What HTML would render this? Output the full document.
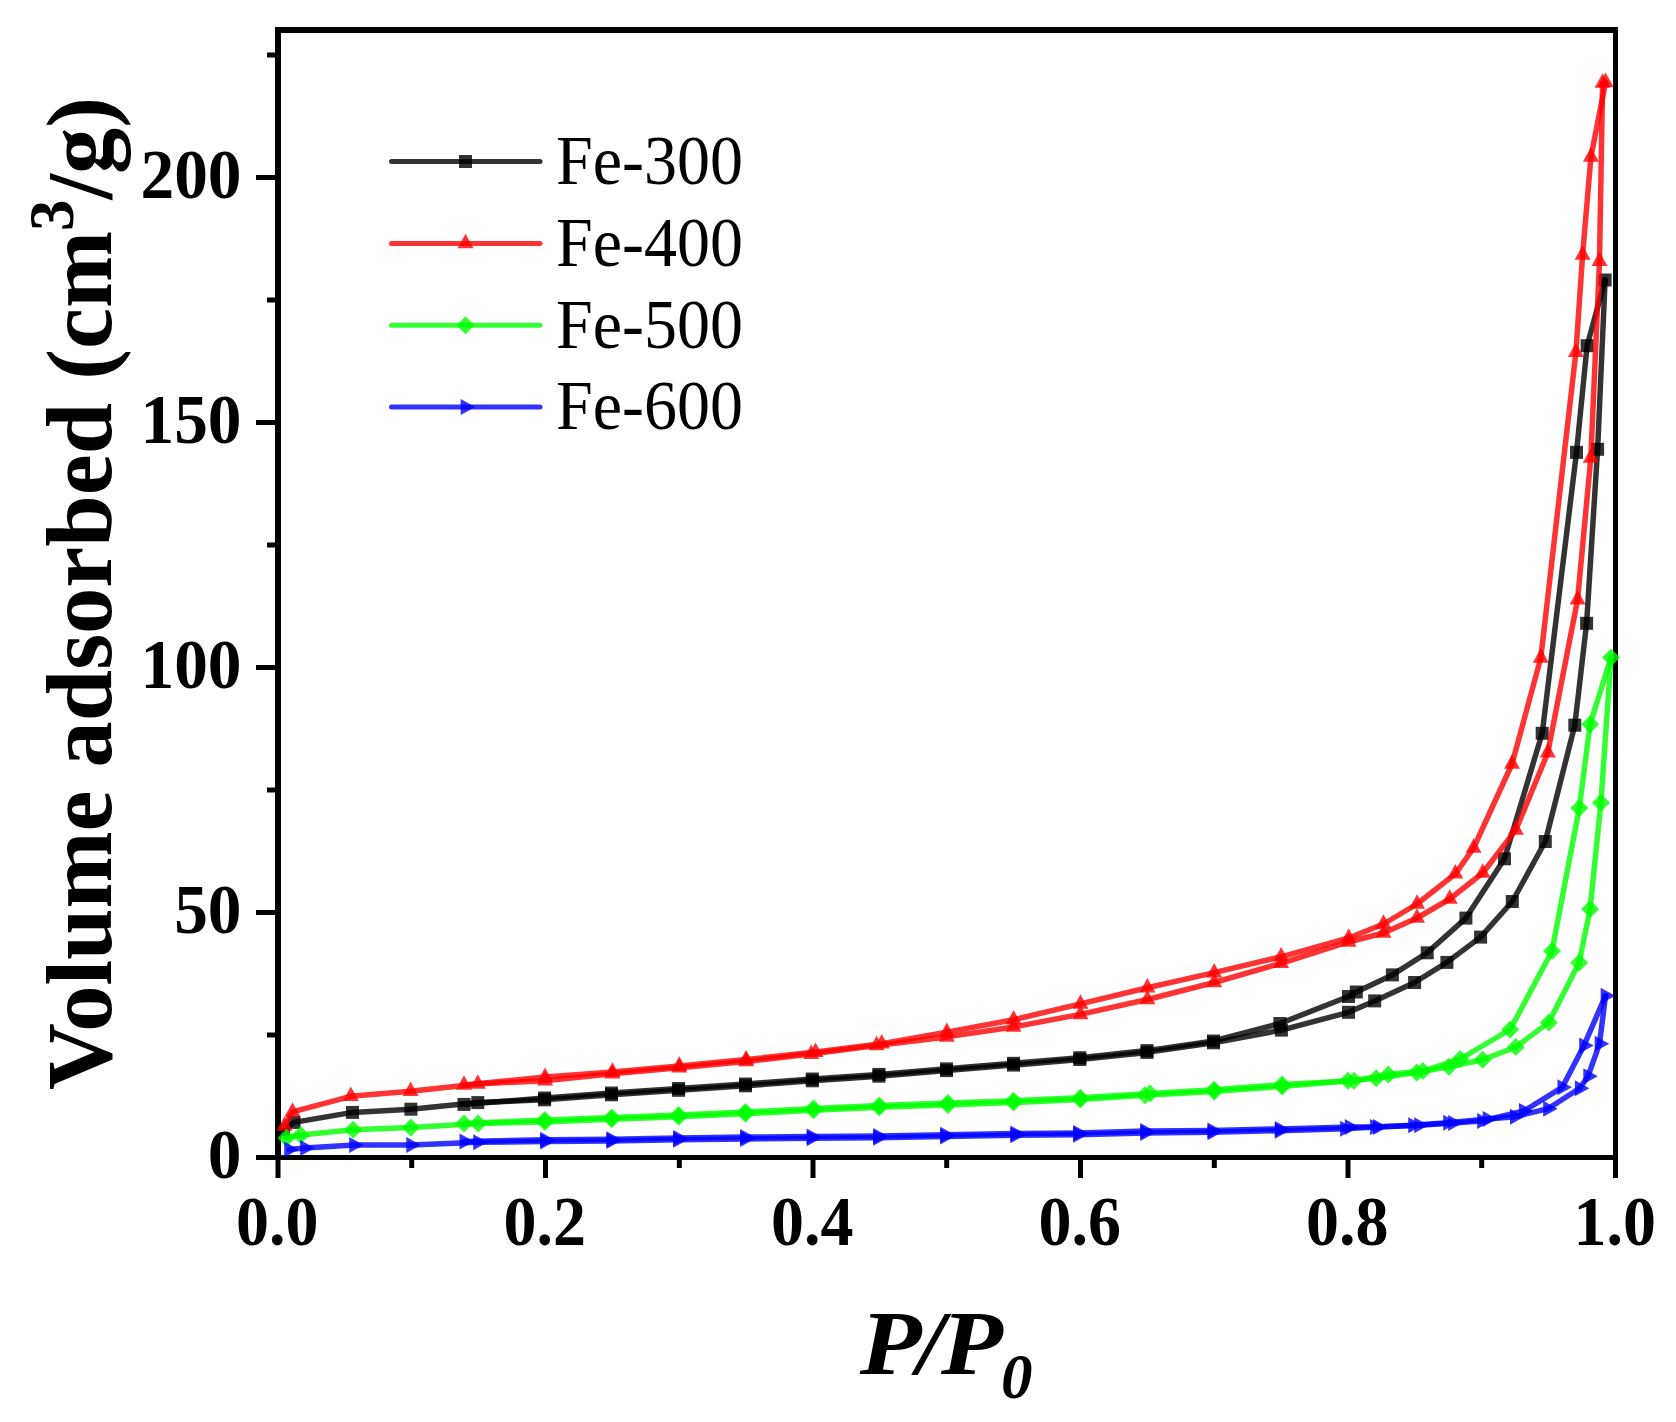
<!DOCTYPE html>
<html><head><meta charset="utf-8"><title>Volume adsorbed vs P/P0</title>
<style>html,body{margin:0;padding:0;background:#fff;}svg{display:block;}text{font-family:"Liberation Serif","Times New Roman",serif;}</style></head><body>
<svg width="1676" height="1422" viewBox="0 0 1676 1422">
<rect x="0" y="0" width="1676" height="1422" fill="#ffffff"/>
<g fill="#000">
<rect x="275" y="27" width="6" height="1133"/>
<rect x="275" y="27" width="1343" height="6"/>
<rect x="1613" y="27" width="5" height="1133"/>
<rect x="275" y="1155" width="1343" height="5"/>
<rect x="256" y="1155" width="20" height="5"/>
<rect x="267" y="1032.5" width="9" height="5"/>
<rect x="256" y="910" width="20" height="5"/>
<rect x="267" y="787.5" width="9" height="5"/>
<rect x="256" y="665" width="20" height="5"/>
<rect x="267" y="542.5" width="9" height="5"/>
<rect x="256" y="420" width="20" height="5"/>
<rect x="267" y="297.5" width="9" height="5"/>
<rect x="256" y="175" width="20" height="5"/>
<rect x="267" y="52.5" width="9" height="5"/>
<rect x="275.5" y="1159" width="5" height="19"/>
<rect x="409.2" y="1159" width="5" height="9"/>
<rect x="543" y="1159" width="5" height="19"/>
<rect x="676.8" y="1159" width="5" height="9"/>
<rect x="810.5" y="1159" width="5" height="19"/>
<rect x="944.2" y="1159" width="5" height="9"/>
<rect x="1078" y="1159" width="5" height="19"/>
<rect x="1211.8" y="1159" width="5" height="9"/>
<rect x="1345.5" y="1159" width="5" height="19"/>
<rect x="1479.2" y="1159" width="5" height="9"/>
<rect x="1613" y="1159" width="5" height="19"/>
</g>
<g>
<polyline points="283.5,1129.9 294,1122.4 352.5,1112.4 410.9,1109.2 477.8,1102.6 544.6,1099.8 611.5,1094.8 678.6,1090.3 745.5,1085.8 812.3,1080.8 878.9,1076.2 946.5,1070.6 1013.5,1065.1 1079.8,1059.5 1147,1052.4 1213.5,1042.8 1281.4,1030.1 1348.5,1012.3 1374.7,1000.9 1414.6,982.5 1446.9,962.4 1480.6,937.1 1512.3,901.5 1545.3,841.5 1574.8,725.2 1586.6,623.3 1597.6,449.3 1605.1,280" fill="none" stroke="#000000" stroke-opacity="0.8" stroke-width="5.5" stroke-linejoin="round" stroke-linecap="round"/>
<polyline points="1605.1,280 1587.1,345.7 1576.5,452.4 1542.2,733.3 1504.5,858.8 1465.9,918.1 1427.2,952.8 1392.4,974.9 1356.3,992 1348.5,996.5 1279.9,1023.5 1213.5,1041 1147,1050.6 1079.8,1057.7 1013.5,1063.3 946.5,1068.8 878.9,1074.4 812.3,1079 745.5,1084 678.6,1088.5 611.5,1093 544.6,1098 464,1104.4" fill="none" stroke="#000000" stroke-opacity="0.8" stroke-width="5.5" stroke-linejoin="round" stroke-linecap="round"/>
<rect x="277" y="1123.4" width="13" height="13" fill="#000000" fill-opacity="0.8"/>
<rect x="287.5" y="1115.9" width="13" height="13" fill="#000000" fill-opacity="0.8"/>
<rect x="346" y="1105.9" width="13" height="13" fill="#000000" fill-opacity="0.8"/>
<rect x="404.4" y="1102.7" width="13" height="13" fill="#000000" fill-opacity="0.8"/>
<rect x="471.3" y="1096.1" width="13" height="13" fill="#000000" fill-opacity="0.8"/>
<rect x="538.1" y="1093.3" width="13" height="13" fill="#000000" fill-opacity="0.8"/>
<rect x="605" y="1088.3" width="13" height="13" fill="#000000" fill-opacity="0.8"/>
<rect x="672.1" y="1083.8" width="13" height="13" fill="#000000" fill-opacity="0.8"/>
<rect x="739" y="1079.3" width="13" height="13" fill="#000000" fill-opacity="0.8"/>
<rect x="805.8" y="1074.3" width="13" height="13" fill="#000000" fill-opacity="0.8"/>
<rect x="872.4" y="1069.7" width="13" height="13" fill="#000000" fill-opacity="0.8"/>
<rect x="940" y="1064.1" width="13" height="13" fill="#000000" fill-opacity="0.8"/>
<rect x="1007" y="1058.6" width="13" height="13" fill="#000000" fill-opacity="0.8"/>
<rect x="1073.3" y="1053" width="13" height="13" fill="#000000" fill-opacity="0.8"/>
<rect x="1140.5" y="1045.9" width="13" height="13" fill="#000000" fill-opacity="0.8"/>
<rect x="1207" y="1036.3" width="13" height="13" fill="#000000" fill-opacity="0.8"/>
<rect x="1274.9" y="1023.6" width="13" height="13" fill="#000000" fill-opacity="0.8"/>
<rect x="1342" y="1005.8" width="13" height="13" fill="#000000" fill-opacity="0.8"/>
<rect x="1368.2" y="994.4" width="13" height="13" fill="#000000" fill-opacity="0.8"/>
<rect x="1408.1" y="976" width="13" height="13" fill="#000000" fill-opacity="0.8"/>
<rect x="1440.4" y="955.9" width="13" height="13" fill="#000000" fill-opacity="0.8"/>
<rect x="1474.1" y="930.6" width="13" height="13" fill="#000000" fill-opacity="0.8"/>
<rect x="1505.8" y="895" width="13" height="13" fill="#000000" fill-opacity="0.8"/>
<rect x="1538.8" y="835" width="13" height="13" fill="#000000" fill-opacity="0.8"/>
<rect x="1568.3" y="718.7" width="13" height="13" fill="#000000" fill-opacity="0.8"/>
<rect x="1580.1" y="616.8" width="13" height="13" fill="#000000" fill-opacity="0.8"/>
<rect x="1591.1" y="442.8" width="13" height="13" fill="#000000" fill-opacity="0.8"/>
<rect x="1598.6" y="273.5" width="13" height="13" fill="#000000" fill-opacity="0.8"/>
<rect x="1580.6" y="339.2" width="13" height="13" fill="#000000" fill-opacity="0.8"/>
<rect x="1570" y="445.9" width="13" height="13" fill="#000000" fill-opacity="0.8"/>
<rect x="1535.7" y="726.8" width="13" height="13" fill="#000000" fill-opacity="0.8"/>
<rect x="1498" y="852.3" width="13" height="13" fill="#000000" fill-opacity="0.8"/>
<rect x="1459.4" y="911.6" width="13" height="13" fill="#000000" fill-opacity="0.8"/>
<rect x="1420.7" y="946.3" width="13" height="13" fill="#000000" fill-opacity="0.8"/>
<rect x="1385.9" y="968.4" width="13" height="13" fill="#000000" fill-opacity="0.8"/>
<rect x="1349.8" y="985.5" width="13" height="13" fill="#000000" fill-opacity="0.8"/>
<rect x="1342" y="990" width="13" height="13" fill="#000000" fill-opacity="0.8"/>
<rect x="1273.4" y="1017" width="13" height="13" fill="#000000" fill-opacity="0.8"/>
<rect x="1207" y="1034.5" width="13" height="13" fill="#000000" fill-opacity="0.8"/>
<rect x="1140.5" y="1044.1" width="13" height="13" fill="#000000" fill-opacity="0.8"/>
<rect x="1073.3" y="1051.2" width="13" height="13" fill="#000000" fill-opacity="0.8"/>
<rect x="1007" y="1056.8" width="13" height="13" fill="#000000" fill-opacity="0.8"/>
<rect x="940" y="1062.3" width="13" height="13" fill="#000000" fill-opacity="0.8"/>
<rect x="872.4" y="1067.9" width="13" height="13" fill="#000000" fill-opacity="0.8"/>
<rect x="805.8" y="1072.5" width="13" height="13" fill="#000000" fill-opacity="0.8"/>
<rect x="739" y="1077.5" width="13" height="13" fill="#000000" fill-opacity="0.8"/>
<rect x="672.1" y="1082" width="13" height="13" fill="#000000" fill-opacity="0.8"/>
<rect x="605" y="1086.5" width="13" height="13" fill="#000000" fill-opacity="0.8"/>
<rect x="538.1" y="1091.5" width="13" height="13" fill="#000000" fill-opacity="0.8"/>
<rect x="457.5" y="1097.9" width="13" height="13" fill="#000000" fill-opacity="0.8"/>
<polyline points="284.5,1125.9 292.5,1111.9 350.8,1096.3 410.6,1091.3 477.8,1083.9 545,1080.7 612.4,1073.7 679.3,1067.7 746.1,1061.4 811.2,1054.1 876.6,1045.5 946.8,1036.9 1013.6,1027 1080.5,1014.4 1147.4,999.5 1214.2,982.5 1281.1,963.3 1348.5,942 1383.5,933 1417,918 1449.7,899 1482.7,873 1515.8,830 1547.8,752.7 1577.6,599.6 1590.8,458 1599.5,261.3 1602.6,83" fill="none" stroke="#ff0000" stroke-opacity="0.8" stroke-width="5.5" stroke-linejoin="round" stroke-linecap="round"/>
<polyline points="1605.6,82.3 1590.9,157 1582.6,255 1575.9,352.3 1540.8,657.9 1512,764 1473.6,848 1455.3,873.8 1417,904 1383.5,924 1348.7,938 1281.1,956.8 1214.2,972.6 1147.4,987.8 1080.5,1003.9 1013.6,1019.7 946.8,1032.1 881.7,1043.7 815.5,1052.1 746.1,1059.6 679.3,1065.9 612.4,1071.9 545,1077.1 464,1084.9" fill="none" stroke="#ff0000" stroke-opacity="0.8" stroke-width="5.5" stroke-linejoin="round" stroke-linecap="round"/>
<polygon points="284.5,1116.2 276.5,1130.7 292.5,1130.7" fill="#ff0000" fill-opacity="0.8"/>
<polygon points="292.5,1102.2 284.5,1116.7 300.5,1116.7" fill="#ff0000" fill-opacity="0.8"/>
<polygon points="350.8,1086.6 342.8,1101.1 358.8,1101.1" fill="#ff0000" fill-opacity="0.8"/>
<polygon points="410.6,1081.6 402.6,1096.1 418.6,1096.1" fill="#ff0000" fill-opacity="0.8"/>
<polygon points="477.8,1074.2 469.8,1088.7 485.8,1088.7" fill="#ff0000" fill-opacity="0.8"/>
<polygon points="545,1071 537,1085.5 553,1085.5" fill="#ff0000" fill-opacity="0.8"/>
<polygon points="612.4,1064 604.4,1078.5 620.4,1078.5" fill="#ff0000" fill-opacity="0.8"/>
<polygon points="679.3,1058 671.3,1072.5 687.3,1072.5" fill="#ff0000" fill-opacity="0.8"/>
<polygon points="746.1,1051.7 738.1,1066.2 754.1,1066.2" fill="#ff0000" fill-opacity="0.8"/>
<polygon points="811.2,1044.4 803.2,1058.9 819.2,1058.9" fill="#ff0000" fill-opacity="0.8"/>
<polygon points="876.6,1035.8 868.6,1050.3 884.6,1050.3" fill="#ff0000" fill-opacity="0.8"/>
<polygon points="946.8,1027.2 938.8,1041.7 954.8,1041.7" fill="#ff0000" fill-opacity="0.8"/>
<polygon points="1013.6,1017.3 1005.6,1031.8 1021.6,1031.8" fill="#ff0000" fill-opacity="0.8"/>
<polygon points="1080.5,1004.7 1072.5,1019.2 1088.5,1019.2" fill="#ff0000" fill-opacity="0.8"/>
<polygon points="1147.4,989.8 1139.4,1004.3 1155.4,1004.3" fill="#ff0000" fill-opacity="0.8"/>
<polygon points="1214.2,972.8 1206.2,987.3 1222.2,987.3" fill="#ff0000" fill-opacity="0.8"/>
<polygon points="1281.1,953.6 1273.1,968.1 1289.1,968.1" fill="#ff0000" fill-opacity="0.8"/>
<polygon points="1348.5,932.3 1340.5,946.8 1356.5,946.8" fill="#ff0000" fill-opacity="0.8"/>
<polygon points="1383.5,923.3 1375.5,937.8 1391.5,937.8" fill="#ff0000" fill-opacity="0.8"/>
<polygon points="1417,908.3 1409,922.8 1425,922.8" fill="#ff0000" fill-opacity="0.8"/>
<polygon points="1449.7,889.3 1441.7,903.8 1457.7,903.8" fill="#ff0000" fill-opacity="0.8"/>
<polygon points="1482.7,863.3 1474.7,877.8 1490.7,877.8" fill="#ff0000" fill-opacity="0.8"/>
<polygon points="1515.8,820.3 1507.8,834.8 1523.8,834.8" fill="#ff0000" fill-opacity="0.8"/>
<polygon points="1547.8,743 1539.8,757.5 1555.8,757.5" fill="#ff0000" fill-opacity="0.8"/>
<polygon points="1577.6,589.9 1569.6,604.4 1585.6,604.4" fill="#ff0000" fill-opacity="0.8"/>
<polygon points="1590.8,448.3 1582.8,462.8 1598.8,462.8" fill="#ff0000" fill-opacity="0.8"/>
<polygon points="1599.5,251.6 1591.5,266.1 1607.5,266.1" fill="#ff0000" fill-opacity="0.8"/>
<polygon points="1602.6,73.3 1594.6,87.8 1610.6,87.8" fill="#ff0000" fill-opacity="0.8"/>
<polygon points="1605.6,72.6 1597.6,87.1 1613.6,87.1" fill="#ff0000" fill-opacity="0.8"/>
<polygon points="1590.9,147.3 1582.9,161.8 1598.9,161.8" fill="#ff0000" fill-opacity="0.8"/>
<polygon points="1582.6,245.3 1574.6,259.8 1590.6,259.8" fill="#ff0000" fill-opacity="0.8"/>
<polygon points="1575.9,342.6 1567.9,357.1 1583.9,357.1" fill="#ff0000" fill-opacity="0.8"/>
<polygon points="1540.8,648.2 1532.8,662.7 1548.8,662.7" fill="#ff0000" fill-opacity="0.8"/>
<polygon points="1512,754.3 1504,768.8 1520,768.8" fill="#ff0000" fill-opacity="0.8"/>
<polygon points="1473.6,838.3 1465.6,852.8 1481.6,852.8" fill="#ff0000" fill-opacity="0.8"/>
<polygon points="1455.3,864.1 1447.3,878.6 1463.3,878.6" fill="#ff0000" fill-opacity="0.8"/>
<polygon points="1417,894.3 1409,908.8 1425,908.8" fill="#ff0000" fill-opacity="0.8"/>
<polygon points="1383.5,914.3 1375.5,928.8 1391.5,928.8" fill="#ff0000" fill-opacity="0.8"/>
<polygon points="1348.7,928.3 1340.7,942.8 1356.7,942.8" fill="#ff0000" fill-opacity="0.8"/>
<polygon points="1281.1,947.1 1273.1,961.6 1289.1,961.6" fill="#ff0000" fill-opacity="0.8"/>
<polygon points="1214.2,962.9 1206.2,977.4 1222.2,977.4" fill="#ff0000" fill-opacity="0.8"/>
<polygon points="1147.4,978.1 1139.4,992.6 1155.4,992.6" fill="#ff0000" fill-opacity="0.8"/>
<polygon points="1080.5,994.2 1072.5,1008.7 1088.5,1008.7" fill="#ff0000" fill-opacity="0.8"/>
<polygon points="1013.6,1010 1005.6,1024.5 1021.6,1024.5" fill="#ff0000" fill-opacity="0.8"/>
<polygon points="946.8,1022.4 938.8,1036.9 954.8,1036.9" fill="#ff0000" fill-opacity="0.8"/>
<polygon points="881.7,1034 873.7,1048.5 889.7,1048.5" fill="#ff0000" fill-opacity="0.8"/>
<polygon points="815.5,1042.4 807.5,1056.9 823.5,1056.9" fill="#ff0000" fill-opacity="0.8"/>
<polygon points="746.1,1049.9 738.1,1064.4 754.1,1064.4" fill="#ff0000" fill-opacity="0.8"/>
<polygon points="679.3,1056.2 671.3,1070.7 687.3,1070.7" fill="#ff0000" fill-opacity="0.8"/>
<polygon points="612.4,1062.2 604.4,1076.7 620.4,1076.7" fill="#ff0000" fill-opacity="0.8"/>
<polygon points="545,1067.4 537,1081.9 553,1081.9" fill="#ff0000" fill-opacity="0.8"/>
<polygon points="464,1075.2 456,1089.7 472,1089.7" fill="#ff0000" fill-opacity="0.8"/>
<polyline points="286.5,1137.9 300.7,1134.9 353.1,1129.8 410.9,1127.6 478.1,1123.6 544.9,1121.9 611.7,1119.2 678.6,1116.8 745.5,1113.8 813.5,1110.3 879.2,1107.3 947.9,1104.9 1013.5,1102.5 1080.4,1099.5 1145,1095.3 1214.2,1091.6 1282.1,1086.4 1347.8,1080.7 1376.2,1078.2 1416.8,1072.6 1449,1066.7 1482.7,1059.7 1515.8,1047 1548.8,1022.4 1579.1,962.7 1590.1,909 1600.9,802.8 1611,657.5" fill="none" stroke="#00ff00" stroke-opacity="0.8" stroke-width="5.5" stroke-linejoin="round" stroke-linecap="round"/>
<polyline points="1611,657.5 1590.1,724.2 1579.3,808 1552,951 1510.2,1029.5 1460.2,1059 1422.9,1071.1 1388.4,1074.6 1353.9,1080.7 1282.1,1084.6 1214.2,1089.8 1150,1093.5 1080.4,1097.7 1013.5,1100.7 947.9,1103.1 879.2,1105.5 813.5,1108.5 745.5,1112 678.6,1115 611.7,1117.4 544.9,1120.1 464,1123.4" fill="none" stroke="#00ff00" stroke-opacity="0.8" stroke-width="5.5" stroke-linejoin="round" stroke-linecap="round"/>
<polygon points="286.5,1128.9 295.5,1137.9 286.5,1146.9 277.5,1137.9" fill="#00ff00" fill-opacity="0.8"/>
<polygon points="300.7,1125.9 309.7,1134.9 300.7,1143.9 291.7,1134.9" fill="#00ff00" fill-opacity="0.8"/>
<polygon points="353.1,1120.8 362.1,1129.8 353.1,1138.8 344.1,1129.8" fill="#00ff00" fill-opacity="0.8"/>
<polygon points="410.9,1118.6 419.9,1127.6 410.9,1136.6 401.9,1127.6" fill="#00ff00" fill-opacity="0.8"/>
<polygon points="478.1,1114.6 487.1,1123.6 478.1,1132.6 469.1,1123.6" fill="#00ff00" fill-opacity="0.8"/>
<polygon points="544.9,1112.9 553.9,1121.9 544.9,1130.9 535.9,1121.9" fill="#00ff00" fill-opacity="0.8"/>
<polygon points="611.7,1110.2 620.7,1119.2 611.7,1128.2 602.7,1119.2" fill="#00ff00" fill-opacity="0.8"/>
<polygon points="678.6,1107.8 687.6,1116.8 678.6,1125.8 669.6,1116.8" fill="#00ff00" fill-opacity="0.8"/>
<polygon points="745.5,1104.8 754.5,1113.8 745.5,1122.8 736.5,1113.8" fill="#00ff00" fill-opacity="0.8"/>
<polygon points="813.5,1101.3 822.5,1110.3 813.5,1119.3 804.5,1110.3" fill="#00ff00" fill-opacity="0.8"/>
<polygon points="879.2,1098.3 888.2,1107.3 879.2,1116.3 870.2,1107.3" fill="#00ff00" fill-opacity="0.8"/>
<polygon points="947.9,1095.9 956.9,1104.9 947.9,1113.9 938.9,1104.9" fill="#00ff00" fill-opacity="0.8"/>
<polygon points="1013.5,1093.5 1022.5,1102.5 1013.5,1111.5 1004.5,1102.5" fill="#00ff00" fill-opacity="0.8"/>
<polygon points="1080.4,1090.5 1089.4,1099.5 1080.4,1108.5 1071.4,1099.5" fill="#00ff00" fill-opacity="0.8"/>
<polygon points="1145,1086.3 1154,1095.3 1145,1104.3 1136,1095.3" fill="#00ff00" fill-opacity="0.8"/>
<polygon points="1214.2,1082.6 1223.2,1091.6 1214.2,1100.6 1205.2,1091.6" fill="#00ff00" fill-opacity="0.8"/>
<polygon points="1282.1,1077.4 1291.1,1086.4 1282.1,1095.4 1273.1,1086.4" fill="#00ff00" fill-opacity="0.8"/>
<polygon points="1347.8,1071.7 1356.8,1080.7 1347.8,1089.7 1338.8,1080.7" fill="#00ff00" fill-opacity="0.8"/>
<polygon points="1376.2,1069.2 1385.2,1078.2 1376.2,1087.2 1367.2,1078.2" fill="#00ff00" fill-opacity="0.8"/>
<polygon points="1416.8,1063.6 1425.8,1072.6 1416.8,1081.6 1407.8,1072.6" fill="#00ff00" fill-opacity="0.8"/>
<polygon points="1449,1057.7 1458,1066.7 1449,1075.7 1440,1066.7" fill="#00ff00" fill-opacity="0.8"/>
<polygon points="1482.7,1050.7 1491.7,1059.7 1482.7,1068.7 1473.7,1059.7" fill="#00ff00" fill-opacity="0.8"/>
<polygon points="1515.8,1038 1524.8,1047 1515.8,1056 1506.8,1047" fill="#00ff00" fill-opacity="0.8"/>
<polygon points="1548.8,1013.4 1557.8,1022.4 1548.8,1031.4 1539.8,1022.4" fill="#00ff00" fill-opacity="0.8"/>
<polygon points="1579.1,953.7 1588.1,962.7 1579.1,971.7 1570.1,962.7" fill="#00ff00" fill-opacity="0.8"/>
<polygon points="1590.1,900 1599.1,909 1590.1,918 1581.1,909" fill="#00ff00" fill-opacity="0.8"/>
<polygon points="1600.9,793.8 1609.9,802.8 1600.9,811.8 1591.9,802.8" fill="#00ff00" fill-opacity="0.8"/>
<polygon points="1611,648.5 1620,657.5 1611,666.5 1602,657.5" fill="#00ff00" fill-opacity="0.8"/>
<polygon points="1590.1,715.2 1599.1,724.2 1590.1,733.2 1581.1,724.2" fill="#00ff00" fill-opacity="0.8"/>
<polygon points="1579.3,799 1588.3,808 1579.3,817 1570.3,808" fill="#00ff00" fill-opacity="0.8"/>
<polygon points="1552,942 1561,951 1552,960 1543,951" fill="#00ff00" fill-opacity="0.8"/>
<polygon points="1510.2,1020.5 1519.2,1029.5 1510.2,1038.5 1501.2,1029.5" fill="#00ff00" fill-opacity="0.8"/>
<polygon points="1460.2,1050 1469.2,1059 1460.2,1068 1451.2,1059" fill="#00ff00" fill-opacity="0.8"/>
<polygon points="1422.9,1062.1 1431.9,1071.1 1422.9,1080.1 1413.9,1071.1" fill="#00ff00" fill-opacity="0.8"/>
<polygon points="1388.4,1065.6 1397.4,1074.6 1388.4,1083.6 1379.4,1074.6" fill="#00ff00" fill-opacity="0.8"/>
<polygon points="1353.9,1071.7 1362.9,1080.7 1353.9,1089.7 1344.9,1080.7" fill="#00ff00" fill-opacity="0.8"/>
<polygon points="1282.1,1075.6 1291.1,1084.6 1282.1,1093.6 1273.1,1084.6" fill="#00ff00" fill-opacity="0.8"/>
<polygon points="1214.2,1080.8 1223.2,1089.8 1214.2,1098.8 1205.2,1089.8" fill="#00ff00" fill-opacity="0.8"/>
<polygon points="1150,1084.5 1159,1093.5 1150,1102.5 1141,1093.5" fill="#00ff00" fill-opacity="0.8"/>
<polygon points="1080.4,1088.7 1089.4,1097.7 1080.4,1106.7 1071.4,1097.7" fill="#00ff00" fill-opacity="0.8"/>
<polygon points="1013.5,1091.7 1022.5,1100.7 1013.5,1109.7 1004.5,1100.7" fill="#00ff00" fill-opacity="0.8"/>
<polygon points="947.9,1094.1 956.9,1103.1 947.9,1112.1 938.9,1103.1" fill="#00ff00" fill-opacity="0.8"/>
<polygon points="879.2,1096.5 888.2,1105.5 879.2,1114.5 870.2,1105.5" fill="#00ff00" fill-opacity="0.8"/>
<polygon points="813.5,1099.5 822.5,1108.5 813.5,1117.5 804.5,1108.5" fill="#00ff00" fill-opacity="0.8"/>
<polygon points="745.5,1103 754.5,1112 745.5,1121 736.5,1112" fill="#00ff00" fill-opacity="0.8"/>
<polygon points="678.6,1106 687.6,1115 678.6,1124 669.6,1115" fill="#00ff00" fill-opacity="0.8"/>
<polygon points="611.7,1108.4 620.7,1117.4 611.7,1126.4 602.7,1117.4" fill="#00ff00" fill-opacity="0.8"/>
<polygon points="544.9,1111.1 553.9,1120.1 544.9,1129.1 535.9,1120.1" fill="#00ff00" fill-opacity="0.8"/>
<polygon points="464,1114.4 473,1123.4 464,1132.4 455,1123.4" fill="#00ff00" fill-opacity="0.8"/>
<polyline points="289,1149.4 305,1147.9 354,1144.9 411.1,1144.9 478,1142.3 545,1141.6 611.2,1141 678,1139.8 745,1138.9 811.5,1138.3 878,1137.7 945,1136.5 1015.2,1135.3 1078,1134.7 1145.1,1132.9 1212.3,1132.2 1279.6,1130.7 1345,1128.8 1374.9,1126.9 1413,1125.3 1448,1122.8 1487.5,1119 1514.8,1116.7 1548,1108.7 1579.7,1088.3 1588.1,1076.2 1599.5,1043.8 1605.5,995.8" fill="none" stroke="#0000ff" stroke-opacity="0.8" stroke-width="5.5" stroke-linejoin="round" stroke-linecap="round"/>
<polyline points="1605.5,995.8 1584,1045.4 1562.3,1087.3 1523.8,1111 1482,1121 1453,1123 1419,1125.3 1378,1126.9 1349.6,1127 1279.6,1128.9 1212.3,1130.4 1145.1,1131.1 1078,1132.9 1015.2,1133.5 945,1134.7 878,1135.9 811.5,1136.5 745,1137.1 678,1138 611.2,1139.2 545,1139.8 464.3,1141.5" fill="none" stroke="#0000ff" stroke-opacity="0.8" stroke-width="5.5" stroke-linejoin="round" stroke-linecap="round"/>
<polygon points="298.7,1149.4 284.2,1141.4 284.2,1157.4" fill="#0000ff" fill-opacity="0.8"/>
<polygon points="314.7,1147.9 300.2,1139.9 300.2,1155.9" fill="#0000ff" fill-opacity="0.8"/>
<polygon points="363.7,1144.9 349.2,1136.9 349.2,1152.9" fill="#0000ff" fill-opacity="0.8"/>
<polygon points="420.8,1144.9 406.3,1136.9 406.3,1152.9" fill="#0000ff" fill-opacity="0.8"/>
<polygon points="487.7,1142.3 473.2,1134.3 473.2,1150.3" fill="#0000ff" fill-opacity="0.8"/>
<polygon points="554.7,1141.6 540.2,1133.6 540.2,1149.6" fill="#0000ff" fill-opacity="0.8"/>
<polygon points="620.9,1141 606.4,1133 606.4,1149" fill="#0000ff" fill-opacity="0.8"/>
<polygon points="687.7,1139.8 673.2,1131.8 673.2,1147.8" fill="#0000ff" fill-opacity="0.8"/>
<polygon points="754.7,1138.9 740.2,1130.9 740.2,1146.9" fill="#0000ff" fill-opacity="0.8"/>
<polygon points="821.2,1138.3 806.7,1130.3 806.7,1146.3" fill="#0000ff" fill-opacity="0.8"/>
<polygon points="887.7,1137.7 873.2,1129.7 873.2,1145.7" fill="#0000ff" fill-opacity="0.8"/>
<polygon points="954.7,1136.5 940.2,1128.5 940.2,1144.5" fill="#0000ff" fill-opacity="0.8"/>
<polygon points="1024.9,1135.3 1010.4,1127.3 1010.4,1143.3" fill="#0000ff" fill-opacity="0.8"/>
<polygon points="1087.7,1134.7 1073.2,1126.7 1073.2,1142.7" fill="#0000ff" fill-opacity="0.8"/>
<polygon points="1154.8,1132.9 1140.3,1124.9 1140.3,1140.9" fill="#0000ff" fill-opacity="0.8"/>
<polygon points="1222,1132.2 1207.5,1124.2 1207.5,1140.2" fill="#0000ff" fill-opacity="0.8"/>
<polygon points="1289.3,1130.7 1274.8,1122.7 1274.8,1138.7" fill="#0000ff" fill-opacity="0.8"/>
<polygon points="1354.7,1128.8 1340.2,1120.8 1340.2,1136.8" fill="#0000ff" fill-opacity="0.8"/>
<polygon points="1384.6,1126.9 1370.1,1118.9 1370.1,1134.9" fill="#0000ff" fill-opacity="0.8"/>
<polygon points="1422.7,1125.3 1408.2,1117.3 1408.2,1133.3" fill="#0000ff" fill-opacity="0.8"/>
<polygon points="1457.7,1122.8 1443.2,1114.8 1443.2,1130.8" fill="#0000ff" fill-opacity="0.8"/>
<polygon points="1497.2,1119 1482.7,1111 1482.7,1127" fill="#0000ff" fill-opacity="0.8"/>
<polygon points="1524.5,1116.7 1510,1108.7 1510,1124.7" fill="#0000ff" fill-opacity="0.8"/>
<polygon points="1557.7,1108.7 1543.2,1100.7 1543.2,1116.7" fill="#0000ff" fill-opacity="0.8"/>
<polygon points="1589.4,1088.3 1574.9,1080.3 1574.9,1096.3" fill="#0000ff" fill-opacity="0.8"/>
<polygon points="1597.8,1076.2 1583.3,1068.2 1583.3,1084.2" fill="#0000ff" fill-opacity="0.8"/>
<polygon points="1609.2,1043.8 1594.7,1035.8 1594.7,1051.8" fill="#0000ff" fill-opacity="0.8"/>
<polygon points="1615.2,995.8 1600.7,987.8 1600.7,1003.8" fill="#0000ff" fill-opacity="0.8"/>
<polygon points="1593.7,1045.4 1579.2,1037.4 1579.2,1053.4" fill="#0000ff" fill-opacity="0.8"/>
<polygon points="1572,1087.3 1557.5,1079.3 1557.5,1095.3" fill="#0000ff" fill-opacity="0.8"/>
<polygon points="1533.5,1111 1519,1103 1519,1119" fill="#0000ff" fill-opacity="0.8"/>
<polygon points="1491.7,1121 1477.2,1113 1477.2,1129" fill="#0000ff" fill-opacity="0.8"/>
<polygon points="1462.7,1123 1448.2,1115 1448.2,1131" fill="#0000ff" fill-opacity="0.8"/>
<polygon points="1428.7,1125.3 1414.2,1117.3 1414.2,1133.3" fill="#0000ff" fill-opacity="0.8"/>
<polygon points="1387.7,1126.9 1373.2,1118.9 1373.2,1134.9" fill="#0000ff" fill-opacity="0.8"/>
<polygon points="1359.3,1127 1344.8,1119 1344.8,1135" fill="#0000ff" fill-opacity="0.8"/>
<polygon points="1289.3,1128.9 1274.8,1120.9 1274.8,1136.9" fill="#0000ff" fill-opacity="0.8"/>
<polygon points="1222,1130.4 1207.5,1122.4 1207.5,1138.4" fill="#0000ff" fill-opacity="0.8"/>
<polygon points="1154.8,1131.1 1140.3,1123.1 1140.3,1139.1" fill="#0000ff" fill-opacity="0.8"/>
<polygon points="1087.7,1132.9 1073.2,1124.9 1073.2,1140.9" fill="#0000ff" fill-opacity="0.8"/>
<polygon points="1024.9,1133.5 1010.4,1125.5 1010.4,1141.5" fill="#0000ff" fill-opacity="0.8"/>
<polygon points="954.7,1134.7 940.2,1126.7 940.2,1142.7" fill="#0000ff" fill-opacity="0.8"/>
<polygon points="887.7,1135.9 873.2,1127.9 873.2,1143.9" fill="#0000ff" fill-opacity="0.8"/>
<polygon points="821.2,1136.5 806.7,1128.5 806.7,1144.5" fill="#0000ff" fill-opacity="0.8"/>
<polygon points="754.7,1137.1 740.2,1129.1 740.2,1145.1" fill="#0000ff" fill-opacity="0.8"/>
<polygon points="687.7,1138 673.2,1130 673.2,1146" fill="#0000ff" fill-opacity="0.8"/>
<polygon points="620.9,1139.2 606.4,1131.2 606.4,1147.2" fill="#0000ff" fill-opacity="0.8"/>
<polygon points="554.7,1139.8 540.2,1131.8 540.2,1147.8" fill="#0000ff" fill-opacity="0.8"/>
<polygon points="474,1141.5 459.5,1133.5 459.5,1149.5" fill="#0000ff" fill-opacity="0.8"/>
</g>
<g font-weight="bold" font-size="66" fill="#000">
<text transform="translate(241.5,1177.7) scale(1.02,1.055)" text-anchor="end">0</text>
<text transform="translate(241.5,932.7) scale(1.02,1.055)" text-anchor="end">50</text>
<text transform="translate(241.5,687.7) scale(1.02,1.055)" text-anchor="end">100</text>
<text transform="translate(241.5,442.7) scale(1.02,1.055)" text-anchor="end">150</text>
<text transform="translate(241.5,197.7) scale(1.02,1.055)" text-anchor="end">200</text>
<text transform="translate(277.2,1245) scale(1,1.053)" text-anchor="middle">0.0</text>
<text transform="translate(544.7,1245) scale(1,1.053)" text-anchor="middle">0.2</text>
<text transform="translate(812.2,1245) scale(1,1.053)" text-anchor="middle">0.4</text>
<text transform="translate(1079.7,1245) scale(1,1.053)" text-anchor="middle">0.6</text>
<text transform="translate(1347.2,1245) scale(1,1.053)" text-anchor="middle">0.8</text>
<text transform="translate(1614.7,1245) scale(1,1.053)" text-anchor="middle">1.0</text>
</g>
<text transform="translate(111,1090) rotate(-90)" font-weight="bold" font-size="92.4" fill="#000">Volume adsorbed (cm<tspan font-size="63" dy="-38">3</tspan><tspan dy="38">/g)</tspan></text>
<text y="1373.7" font-weight="bold" font-style="italic" font-size="90.5" fill="#000"><tspan x="859.7" textLength="62" lengthAdjust="spacingAndGlyphs">P</tspan><tspan x="917" textLength="27" lengthAdjust="spacingAndGlyphs">/</tspan><tspan x="941" textLength="62" lengthAdjust="spacingAndGlyphs">P</tspan><tspan x="1001" font-size="63" dy="24">0</tspan></text>
<g>
<line x1="391.5" y1="161.5" x2="540" y2="161.5" stroke="#000000" stroke-opacity="0.8" stroke-width="5" stroke-linecap="round"/>
<rect x="459" y="155" width="13" height="13" fill="#000000" fill-opacity="0.8"/>
<text transform="translate(556,183.9) scale(1,1.045)" font-size="66" fill="#000">Fe-300</text>
<line x1="391.5" y1="243.4" x2="540" y2="243.4" stroke="#ff0000" stroke-opacity="0.8" stroke-width="5" stroke-linecap="round"/>
<polygon points="465.5,233.7 457.5,248.2 473.5,248.2" fill="#ff0000" fill-opacity="0.8"/>
<text transform="translate(556,265.8) scale(1,1.045)" font-size="66" fill="#000">Fe-400</text>
<line x1="391.5" y1="325.2" x2="540" y2="325.2" stroke="#00ff00" stroke-opacity="0.8" stroke-width="5" stroke-linecap="round"/>
<polygon points="465.5,316.2 474.5,325.2 465.5,334.2 456.5,325.2" fill="#00ff00" fill-opacity="0.8"/>
<text transform="translate(556,347.6) scale(1,1.045)" font-size="66" fill="#000">Fe-500</text>
<line x1="391.5" y1="407" x2="540" y2="407" stroke="#0000ff" stroke-opacity="0.8" stroke-width="5" stroke-linecap="round"/>
<polygon points="475.2,407 460.7,399 460.7,415" fill="#0000ff" fill-opacity="0.8"/>
<text transform="translate(556,429.4) scale(1,1.045)" font-size="66" fill="#000">Fe-600</text>
</g>
</svg></body></html>
